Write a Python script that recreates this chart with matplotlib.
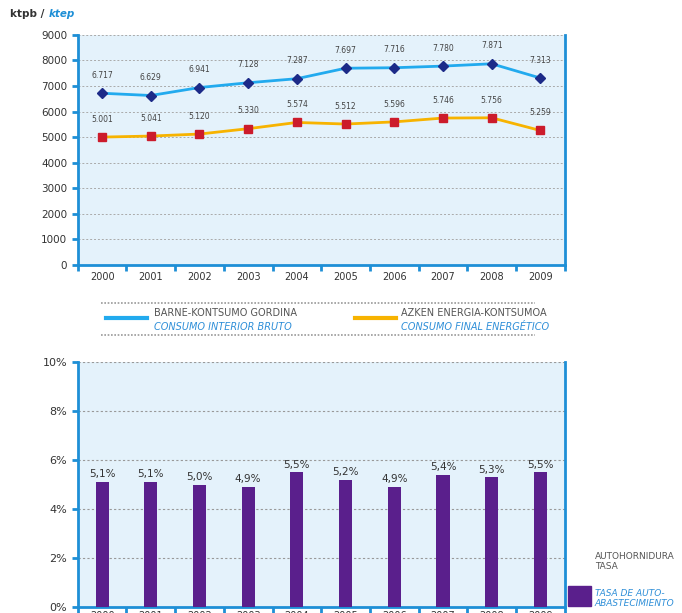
import numpy as np
import matplotlib.pyplot as plt
from matplotlib.lines import Line2D
from matplotlib.patches import Rectangle

plt.rcParams['font.family'] = ['Liberation Sans Narrow', 'DejaVu Sans']

# data
years = ['2000', '2001', '2002', '2003', '2004', '2005', '2006', '2007', '2008', '2009']
gross_cons = [6717, 6629, 6941, 7128, 7287, 7697, 7716, 7780, 7871, 7313]
final_cons = [5001, 5041, 5120, 5330, 5574, 5512, 5596, 5746, 5756, 5259]
self_supply = [5.1, 5.1, 5.0, 4.9, 5.5, 5.2, 4.9, 5.4, 5.3, 5.5]

blue = '#1e8fd6'
bg = '#e4f2fb'
grey_txt = '#555555'

def fmt_thousands(v):
    return '{:,}'.format(v).replace(',', '.')

fig = plt.figure(figsize=(6.82, 6.13), dpi=100)
x = np.arange(len(years))

# ---- top chart: consumption lines
ax1 = fig.add_axes([0.114, 0.568, 0.714, 0.375])
ax1.set_facecolor(bg)
ax1.plot(x, gross_cons, color='#22aaee', lw=2, marker='D', ms=5.5,
         mfc='#1c2a88', mec='#1c2a88', zorder=3)
ax1.plot(x, final_cons, color='#f7b300', lw=2, marker='s', ms=5.5,
         mfc='#cc1b2b', mec='#cc1b2b', zorder=3)
for i in x:
    ax1.annotate(fmt_thousands(gross_cons[i]), (i, gross_cons[i]), xytext=(0, 11),
                 textcoords='offset points', ha='center', fontsize=5.5, color='#444444')
    ax1.annotate(fmt_thousands(final_cons[i]), (i, final_cons[i]), xytext=(0, 11),
                 textcoords='offset points', ha='center', fontsize=5.5, color='#444444')
ax1.set_xlim(-0.5, 9.5)
ax1.set_ylim(0, 9000)
ax1.set_yticks(range(0, 9001, 1000))
ax1.set_xticks(x)
ax1.set_xticklabels(years, fontsize=7, color='#333333')
ax1.set_xticks(np.arange(-0.5, 10, 1), minor=True)
ax1.tick_params(axis='x', which='major', length=0, pad=5)
ax1.tick_params(axis='x', which='minor', length=4, width=2, color=blue, direction='out')
ax1.tick_params(axis='y', length=4, width=2, color=blue, labelsize=7.5, labelcolor='#333333')
ax1.grid(axis='y', color='#aaaaaa', ls=(0, (2, 2)), lw=0.7)
ax1.set_axisbelow(True)
for s in ['left', 'bottom', 'right']:
    ax1.spines[s].set_color(blue)
    ax1.spines[s].set_linewidth(2)
ax1.spines['top'].set_visible(False)

fig.text(0.015, 0.972, 'ktpb /', fontsize=7.5, weight='bold', color='#333333')
fig.text(0.072, 0.972, 'ktep', fontsize=7.5, weight='bold', style='italic', color='#1e8fd6')

# ---- legend box for the line chart
fig.add_artist(Line2D([0.148, 0.785], [0.505, 0.505], color='#999999', lw=1.2, ls=(0, (1, 1))))
fig.add_artist(Line2D([0.148, 0.785], [0.454, 0.454], color='#999999', lw=1.2, ls=(0, (1, 1))))
fig.add_artist(Line2D([0.155, 0.215], [0.481, 0.481], color='#22aaee', lw=3))
fig.add_artist(Line2D([0.52, 0.58], [0.481, 0.481], color='#f7b300', lw=3))
fig.text(0.226, 0.484, 'BARNE-KONTSUMO GORDINA', fontsize=7, color=grey_txt)
fig.text(0.226, 0.462, 'CONSUMO INTERIOR BRUTO', fontsize=7, color='#2f8fd8', style='italic')
fig.text(0.588, 0.484, 'AZKEN ENERGIA-KONTSUMOA', fontsize=7, color=grey_txt)
fig.text(0.588, 0.462, 'CONSUMO FINAL ENERGÉTICO', fontsize=7, color='#2f8fd8', style='italic')

# ---- bottom chart: self-supply rate
ax2 = fig.add_axes([0.114, 0.0098, 0.714, 0.399])
ax2.set_facecolor(bg)
ax2.bar(x, self_supply, width=0.27, color='#5a1f8c', zorder=3)
for i in x:
    ax2.annotate('{:.1f}%'.format(self_supply[i]).replace('.', ','), (i, self_supply[i]),
                 xytext=(0, 2), textcoords='offset points', ha='center', va='bottom',
                 fontsize=7.5, color='#333333')
ax2.set_xlim(-0.5, 9.5)
ax2.set_ylim(0, 10)
ax2.set_yticks(range(0, 11, 2))
ax2.set_yticklabels([f'{v}%' for v in range(0, 11, 2)])
ax2.set_xticks(x)
ax2.set_xticklabels(years, fontsize=7, color='#333333')
ax2.set_xticks(np.arange(-0.5, 10, 1), minor=True)
ax2.tick_params(axis='x', which='major', length=0, pad=3)
ax2.tick_params(axis='x', which='minor', length=4, width=2, color=blue, direction='out')
ax2.tick_params(axis='y', length=4, width=2, color=blue, labelsize=8, labelcolor='#333333')
ax2.grid(axis='y', color='#999999', ls=(0, (2, 2)), lw=0.8)
ax2.set_axisbelow(True)
for s in ['left', 'bottom', 'right']:
    ax2.spines[s].set_color(blue)
    ax2.spines[s].set_linewidth(2)
ax2.spines['top'].set_visible(False)

# legend for bar chart
fig.add_artist(Rectangle((0.833, 0.012), 0.034, 0.032, color='#5a1f8c'))
fig.text(0.872, 0.072, 'AUTOHORNIDURA\nTASA', fontsize=6.5, color=grey_txt, linespacing=1.1)
fig.text(0.872, 0.012, 'TASA DE AUTO-\nABASTECIMIENTO', fontsize=6.5, color='#2f8fd8',
         style='italic', linespacing=1.1)

fig.savefig('out.png', dpi=100)
